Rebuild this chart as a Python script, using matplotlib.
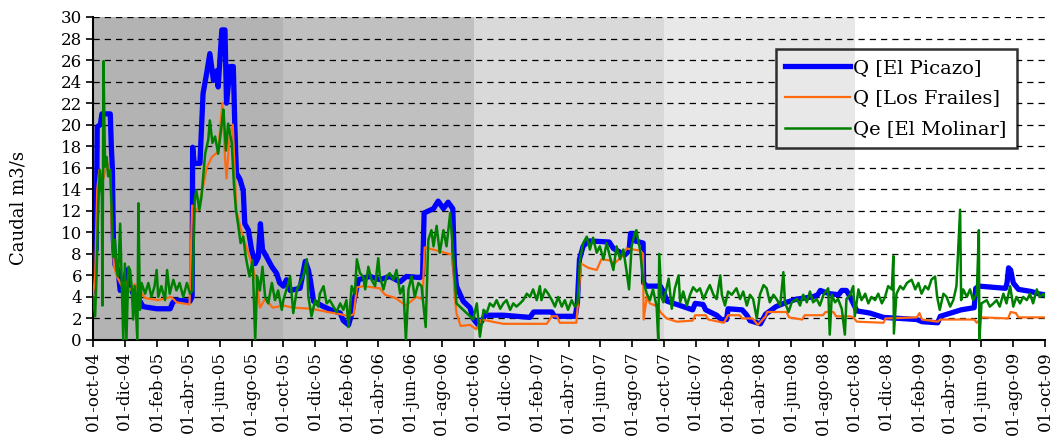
import numpy as np
import pandas as pd
import matplotlib
matplotlib.use('Agg')
import matplotlib.pyplot as plt
import matplotlib.dates as mdates
from matplotlib.patches import Rectangle

plt.rcParams['font.family'] = ['DejaVu Serif']

# days counted from 01-oct-2004, caudal in m3/s
picazo_day = [0, 3, 6, 8, 14, 17, 33, 35, 37, 39, 42, 48, 52, 58, 65, 70, 77, 90, 96, 122,
              148, 152, 157, 186, 190, 191, 194, 205, 211, 218, 224, 231, 237, 240, 247, 253,
              256, 263, 269, 272, 275, 282, 288, 291, 298, 304, 311, 317, 321, 325, 333, 343,
              352, 358, 365,
              371, 378, 397, 407, 413, 417, 423, 442, 461, 474, 480, 490, 496, 502, 509, 531,
              550, 569, 589, 601, 627, 632, 635, 653, 662, 672, 681, 690, 693, 697, 710, 723,
              729, 740, 752, 787, 838, 845, 880, 885, 925, 929, 933, 940, 950, 990, 998, 1020,
              1028, 1031, 1036, 1040, 1055, 1056, 1062, 1083,
              1088, 1095, 1101, 1126, 1150, 1155, 1170, 1175, 1196, 1205, 1215, 1218, 1245,
              1254, 1260, 1280, 1290, 1310, 1330, 1350, 1380, 1390, 1395, 1400, 1413, 1430,
              1436, 1445, 1452,
              1458, 1465, 1490, 1516, 1580, 1590, 1620, 1625, 1645, 1665, 1690, 1693, 1700,
              1750, 1753, 1756, 1760, 1765, 1775, 1800, 1812, 1826]
picazo_q = [4.5, 8.0, 8.4, 19.8, 20.0, 21.0, 21.0, 18.0, 16.0, 9.3, 7.0, 6.5, 4.6, 5.0, 6.5,
            5.0, 4.3, 3.6, 3.1, 2.9, 2.9, 3.4, 3.7, 3.6, 4.0, 17.9, 16.4, 16.4, 22.9, 24.8,
            26.6, 24.1, 25.0, 23.5, 28.8, 28.8, 22.0, 25.4, 25.4, 19.8, 15.5, 14.9, 13.9, 10.8,
            10.2, 8.4, 7.1, 7.7, 10.8, 8.4, 7.7, 6.8, 6.2, 5.3, 5.0,
            5.6, 4.6, 4.8, 7.3, 6.5, 5.5, 3.6, 3.1, 2.7, 2.5, 1.8, 1.4, 2.4, 4.0, 5.6, 5.9,
            5.6, 5.9, 5.4, 5.9, 5.8, 6.0, 11.8, 12.2, 12.9, 12.2, 12.8, 12.2, 7.0, 5.0, 3.6, 3.0,
            2.0, 1.3, 2.3, 2.3, 2.1, 2.6, 2.6, 2.2, 2.2, 3.5, 7.5, 8.7, 9.2, 9.1, 8.5, 7.9,
            8.3, 9.9, 9.9, 9.2, 9.0, 5.3, 5.0, 5.0,
            5.0, 4.4, 3.6, 3.2, 2.8, 3.4, 3.3, 2.8, 2.3, 1.9, 1.9, 2.9, 2.8,
            2.3, 1.8, 1.5, 2.4, 3.1, 3.5, 3.8, 4.0, 4.2, 4.6, 4.5, 4.3, 4.2,
            4.6, 4.6, 4.0,
            3.4, 2.7, 2.5, 2.1, 1.9, 1.7, 1.6, 2.2, 2.5, 2.8, 3.0, 4.8, 5.0,
            4.8, 5.3, 6.7, 6.5, 5.3, 4.7, 4.5, 4.3, 4.2]

frailes_day = [0, 4, 8, 12, 20, 27, 33, 36, 40, 45, 55, 62, 70, 80, 90, 100, 125, 150, 160,
               185, 190, 200, 210, 218, 228, 240, 248, 253, 256, 262, 268, 275, 285, 295, 305,
               315, 320, 330, 345, 365,
               384, 420, 450, 474, 490, 500, 506, 520, 550, 560, 580, 600, 620, 632, 636, 660,
               690, 693, 697, 705, 723,
               735, 745, 787, 870, 880, 890, 895, 927, 931, 936, 950, 966, 975, 990, 1000,
               1015, 1023, 1050, 1055, 1056, 1062, 1068, 1083,
               1088, 1100, 1120, 1150, 1155, 1175, 1180, 1210, 1218, 1240, 1245, 1265, 1275,
               1290, 1293, 1330, 1335, 1360, 1365, 1400, 1405, 1420, 1425, 1452,
               1458, 1465, 1516, 1520, 1580, 1585, 1590, 1620, 1625, 1690, 1695, 1705, 1755,
               1760, 1770, 1775, 1826]
frailes_q = [4.0, 6.0, 14.0, 15.8, 15.0, 16.5, 15.5, 10.0, 7.0, 6.0, 5.0, 5.5, 4.6, 5.2, 4.5,
             3.9, 3.7, 4.0, 3.5, 3.3, 12.5, 12.0, 14.0, 16.0, 17.0, 17.5, 22.0, 17.0, 15.0,
             19.0, 20.0, 12.0, 10.0, 8.5, 7.0, 5.0, 3.0, 3.8, 3.0, 3.2,
             3.0, 2.9, 2.6, 2.4, 2.2, 2.4, 4.9, 5.0, 4.8, 4.2, 3.9, 3.2, 4.0, 3.8, 8.6, 8.3,
             7.9, 4.5, 2.5, 1.3, 1.4,
             1.0, 1.9, 1.5, 1.5, 2.2, 2.2, 1.6, 1.6, 4.0, 7.1, 6.7, 6.5, 7.5, 7.4, 7.1,
             7.8, 8.5, 8.3, 8.0, 1.9, 4.0, 3.4, 3.1,
             2.6, 2.0, 1.7, 1.8, 2.3, 2.3, 1.9, 1.6, 2.3, 2.3, 2.0, 2.0, 1.4,
             2.2, 2.6, 2.6, 2.1, 1.9, 2.3, 2.3, 2.6, 2.6, 2.2, 2.2,
             2.1, 1.7, 1.6, 2.0, 2.1, 2.5, 1.9, 1.7, 1.9, 1.9, 1.6, 2.1, 2.0,
             2.6, 2.5, 2.1, 2.1]

molinar_day = [0, 4, 7, 10, 13, 17, 18, 20, 23, 26, 29, 33, 36, 39, 42, 45, 48, 52, 55, 58,
               61, 64, 68, 71, 74, 77, 80, 85, 87, 90, 93, 100, 106, 112, 118, 122, 125, 131,
               138, 142, 147, 154, 160, 166, 173, 180, 186, 191, 195, 198, 204, 208, 215, 221,
               224, 229, 234, 240, 247, 250, 255, 259, 266, 270, 274, 278, 283, 288, 293, 300,
               306, 311, 315, 320, 325, 330, 336, 343, 349, 355, 362,
               365, 378, 384, 391, 403, 410, 413, 419, 426, 432, 435, 442, 448, 454, 461, 467,
               474, 480, 486, 490, 496, 502, 506, 512, 518, 522, 528, 534, 541, 547, 550, 557,
               563, 569, 576, 582, 589, 595, 600, 605, 611, 617, 624, 630, 638, 643, 649, 653,
               659, 665, 672, 678, 685, 691, 697, 710, 723,
               729, 736, 742, 749, 755, 761, 768, 774, 781, 787, 793, 800, 806, 812, 819, 825,
               832, 838, 844, 851, 857, 860, 867, 873, 880, 886, 892, 899, 905, 911, 918, 924,
               929, 934, 940, 947, 953, 959, 966, 972, 979, 985, 991, 998, 1004, 1011, 1017,
               1023, 1028, 1033, 1039, 1042, 1049, 1055, 1062, 1068, 1074, 1081, 1084, 1086,
               1090,
               1094, 1104, 1110, 1116, 1123, 1126, 1132, 1139, 1145, 1151, 1158, 1164, 1171,
               1177, 1183, 1190, 1196, 1203, 1206, 1212, 1218, 1225, 1234, 1241, 1247, 1254,
               1260, 1266, 1273, 1279, 1286, 1292, 1298, 1305, 1311, 1318, 1324, 1327, 1334,
               1340, 1350, 1356, 1362, 1369, 1375, 1381, 1388, 1394, 1401, 1410, 1413, 1417,
               1423, 1429, 1436, 1442, 1445, 1452,
               1458, 1461, 1468, 1474, 1481, 1487, 1493, 1500, 1506, 1513, 1519, 1525, 1532,
               1535, 1536, 1541, 1548, 1554, 1561, 1570, 1577, 1583, 1589, 1596, 1602, 1608,
               1615, 1619, 1624, 1631, 1637, 1644, 1650, 1656, 1663, 1665, 1669, 1676, 1682,
               1688, 1695, 1699, 1700, 1704, 1714, 1720, 1727, 1733, 1739, 1746, 1752, 1759,
               1765, 1771, 1778, 1784, 1791, 1797, 1803, 1810, 1816, 1823, 1826]
molinar_q = [4.0, 2.2, 6.5, 12.7, 15.8, 13.3, 3.2, 25.9, 16.1, 17.0, 15.2, 15.8, 11.5, 7.7,
             9.3, 6.5, 5.9, 10.8, 5.3, 0.0, 7.1, 0.0, 6.8, 6.5, 5.0, 1.9, 5.0, 0.0, 12.7, 2.8,
             5.3, 4.3, 5.3, 4.0, 5.0, 6.5, 4.0, 5.0, 3.7, 6.5, 4.3, 5.6, 4.6, 5.3, 4.0, 5.3,
             4.3, 4.6, 13.0, 13.9, 12.1, 13.3, 17.3, 18.6, 20.4, 18.3, 18.9, 17.3, 20.1, 21.4,
             17.6, 20.1, 18.3, 14.6, 12.1, 10.8, 9.0, 9.6, 7.7, 5.9, 7.4, 0.0, 5.9, 4.6, 6.8,
             4.0, 3.4, 5.3, 3.7, 4.6, 2.8,
             3.7, 5.9, 2.5, 4.7, 5.9, 7.5, 4.0, 2.2, 3.7, 3.1, 4.3, 5.0, 3.4, 3.7, 3.1, 2.6,
             3.4, 2.8, 3.7, 1.2, 5.0, 4.3, 7.5, 6.2, 5.9, 4.7, 6.8, 5.6, 5.0, 7.6, 5.9, 4.7,
             5.9, 6.2, 5.6, 6.5, 4.3, 5.0, 0.0, 4.7, 5.9, 4.0, 5.3, 5.0, 1.2, 9.3, 10.2, 8.7,
             10.6, 8.1, 10.2, 8.7, 11.8, 7.8, 3.4, 2.8, 2.2,
             1.9, 3.4, 0.3, 2.8, 2.5, 3.4, 3.1, 3.7, 2.9, 3.4, 3.7, 2.8, 3.4, 3.1, 3.4, 3.7,
             4.3, 4.0, 4.7, 3.7, 5.0, 3.7, 4.7, 4.3, 3.7, 3.1, 4.0, 3.1, 3.7, 2.8, 3.7, 3.1,
             3.4, 7.5, 9.0, 9.6, 8.4, 9.5, 8.1, 8.7, 7.5, 9.0, 7.8, 6.5, 8.7, 7.5, 8.4,
             6.5, 4.7, 8.7, 9.9, 10.2, 8.4, 5.6, 4.3, 3.7, 4.7, 3.1, 0.0, 8.0,
             4.0,
             3.5, 5.7, 2.9, 4.8, 6.0, 3.5, 4.5, 3.2, 4.2, 4.9, 4.5, 4.8, 3.8,
             4.5, 5.1, 4.2, 3.8, 6.0, 4.2, 3.2, 4.5, 4.2, 4.8, 3.8, 4.5, 3.2,
             4.2, 3.8, 2.0, 4.2, 5.1, 4.8, 3.5, 4.2, 3.8, 3.2, 6.3, 3.5, 2.6,
             3.5, 3.8, 3.2, 4.2, 3.5, 4.5, 3.5, 3.8, 3.2, 4.2, 4.8, 0.5, 4.2,
             3.5, 3.8, 2.9, 0.5, 3.8, 4.2,
             5.0, 2.2, 4.7, 3.7, 4.3, 3.4, 4.0, 3.7, 4.3, 3.4, 4.0, 5.0, 4.7,
             7.8, 0.6, 4.3, 5.0, 4.7, 5.3, 5.6, 4.7, 5.3, 4.3, 5.0, 4.7, 5.6,
             5.9, 4.0, 2.8, 4.3, 4.0, 3.1, 3.7, 5.0, 12.1, 3.7, 4.7, 4.0, 4.7,
             3.7, 4.3, 10.2, 0.0, 3.4, 3.7, 3.1, 3.4, 3.7, 3.1, 4.3, 3.4, 5.0,
             3.1, 4.0, 3.4, 4.0, 3.7, 4.3, 3.4, 4.7, 4.0, 4.3, 4.0]

year_starts = ['2004-10-01', '2005-10-01', '2006-10-01', '2007-10-01', '2008-10-01', '2009-10-01']
band_colors = ['#b3b3b3', '#c0c0c0', '#d9d9d9', '#e8e8e8', '#ffffff']

meses = {1: 'ene', 2: 'feb', 3: 'mar', 4: 'abr', 5: 'may', 6: 'jun',
         7: 'jul', 8: 'ago', 9: 'sep', 10: 'oct', 11: 'nov', 12: 'dic'}

start = pd.Timestamp('2004-10-01')


def to_dates(days):
    return start + pd.to_timedelta(days, unit='D')


fig = plt.figure(figsize=(10.55, 4.46), dpi=100)
ax = fig.add_axes([0.0882, 0.2377, 0.9024, 0.7242])

# hydrological years shaded
for i in range(len(band_colors)):
    ax.axvspan(pd.Timestamp(year_starts[i]), pd.Timestamp(year_starts[i + 1]),
               color=band_colors[i], lw=0, zorder=0)

ax.plot(to_dates(picazo_day), picazo_q, color='#0000ff', lw=3.8,
        label='Q [El Picazo]', zorder=3)
ax.plot(to_dates(frailes_day), frailes_q, color='#ff6a10', lw=1.6,
        label='Q [Los Frailes]', zorder=4)
ax.plot(to_dates(molinar_day), molinar_q, color='#008000', lw=1.8,
        label='Qe [El Molinar]', zorder=5)

ax.set_xlim(pd.Timestamp(year_starts[0]), pd.Timestamp(year_starts[-1]))
ax.set_ylim(0, 30)
ax.set_yticks(np.arange(0, 31, 2))

ticks = pd.date_range(year_starts[0], year_starts[-1], freq='2MS')
ax.set_xticks(ticks)
ax.set_xticklabels([f"01-{meses[t.month]}-{t.year % 100:02d}" for t in ticks],
                   rotation=90, fontsize=12)
ax.tick_params(axis='y', labelsize=12)
ax.tick_params(direction='out', length=5, width=1.2, color='black', pad=3)

ax.set_axisbelow(True)
ax.yaxis.grid(True, color='black', linestyle=(0, (5, 4)), linewidth=0.9, zorder=1)

for s in ['top', 'right']:
    ax.spines[s].set_visible(False)
for s in ['left', 'bottom']:
    ax.spines[s].set_linewidth(1.5)

ax.set_ylabel('Caudal m3/s', fontsize=13)
ax.yaxis.set_label_coords(-0.069, 0.41)

leg = ax.legend(loc='upper left', bbox_to_anchor=(0.717, 0.901), borderaxespad=0,
                fancybox=False, edgecolor='black', facecolor='none', fontsize=14,
                handlelength=3.3, handletextpad=0.2, labelspacing=0.66, borderpad=0.5)
leg.get_frame().set_linewidth(1.8)
leg.set_zorder(6)

# the legend box hides the gridlines but lets the band colours through
fig.canvas.draw()
bb = leg.get_window_extent().transformed(ax.transData.inverted())
for i in range(len(band_colors)):
    x0 = max(mdates.date2num(pd.Timestamp(year_starts[i])), bb.x0)
    x1 = min(mdates.date2num(pd.Timestamp(year_starts[i + 1])), bb.x1)
    if x1 > x0:
        ax.add_patch(Rectangle((x0, bb.y0), x1 - x0, bb.y1 - bb.y0,
                               facecolor=band_colors[i], lw=0, zorder=2))

fig.savefig('out.png', dpi=100)
